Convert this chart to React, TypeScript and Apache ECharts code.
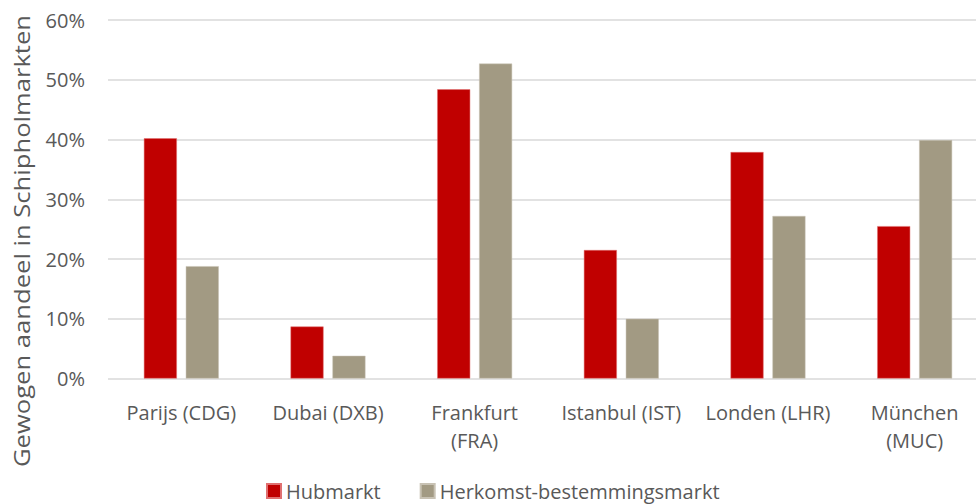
import React, { useEffect, useRef } from "react";
import * as echarts from "echarts";

const categories = [
  "Parijs (CDG)",
  "Dubai (DXB)",
  "Frankfurt\n(FRA)",
  "Istanbul (IST)",
  "Londen (LHR)",
  "München\n(MUC)",
];
const hubmarkt = [40.2, 8.7, 48.4, 21.5, 37.9, 25.5];
const herkomstBestemmingsmarkt = [18.8, 3.8, 52.7, 10.0, 27.2, 39.9];
const yTicks = [0, 10, 20, 30, 40, 50, 60];
const seriesNames = ["Hubmarkt", "Herkomst-bestemmingsmarkt"];
const yTitle = "Gewogen aandeel in Schipholmarkten";

const FONT = "'Open Sans', 'Noto Sans', sans-serif";
const TEXT = "#595959";

export default function App() {
  const ref = useRef<HTMLDivElement>(null);
  useEffect(() => {
    if (!ref.current) return;
    const chart = echarts.init(ref.current, null, { renderer: "svg" });
    chart.setOption({
      animation: false,
      backgroundColor: "#ffffff",
      textStyle: { fontFamily: FONT },
      grid: { left: 108, top: 20, width: 880, height: 358.5, containLabel: false },
      legend: {
        data: seriesNames,
        left: 266,
        top: 481,
        padding: 0,
        itemWidth: 14,
        itemHeight: 14,
        itemGap: 39,
        icon: "rect",
        textStyle: { fontFamily: FONT, fontSize: 20, color: TEXT, padding: [0, 0, 0, 0] },
      },
      graphic: [
        {
          type: "text",
          x: 22,
          y: 241,
          rotation: Math.PI / 2,
          scaleX: 1.22,
          style: {
            text: yTitle,
            font: `21px ${FONT}`,
            fill: TEXT,
            textAlign: "center",
            textVerticalAlign: "middle",
          },
        },
      ],
      xAxis: {
        type: "category",
        data: categories,
        axisLine: { show: false },
        axisTick: { show: false },
        axisLabel: {
          color: TEXT,
          fontSize: 20,
          fontFamily: FONT,
          margin: 20,
          lineHeight: 28,
          interval: 0,
        },
      },
      yAxis: {
        type: "value",
        min: yTicks[0],
        max: yTicks[yTicks.length - 1],
        interval: 10,
        axisLine: { show: false },
        axisTick: { show: false },
        axisLabel: {
          color: TEXT,
          fontSize: 20,
          fontFamily: FONT,
          margin: 23,
          formatter: (v: number) => `${v}%`,
        },
        splitLine: { lineStyle: { color: "#D9D9D9", width: 1.5 } },
      },
      series: [
        {
          name: seriesNames[0],
          type: "bar",
          data: hubmarkt,
          barWidth: 33,
          barGap: "27%",
          itemStyle: { color: "#C00000", borderColor: "#E07070", borderWidth: 0.5 },
        },
        {
          name: seriesNames[1],
          type: "bar",
          data: herkomstBestemmingsmarkt,
          barWidth: 33,
          barGap: "27%",
          itemStyle: { color: "#A29A83", borderColor: "#C8C2B4", borderWidth: 0.5 },
        },
      ],
    });
    return () => chart.dispose();
  }, []);
  return (
    <div
      style={{
        position: "absolute",
        left: 0,
        top: 0,
        width: 976,
        height: 504,
        overflow: "hidden",
        background: "#ffffff",
      }}
    >
      <div ref={ref} style={{ width: 1000, height: 504 }} />
    </div>
  );
}
